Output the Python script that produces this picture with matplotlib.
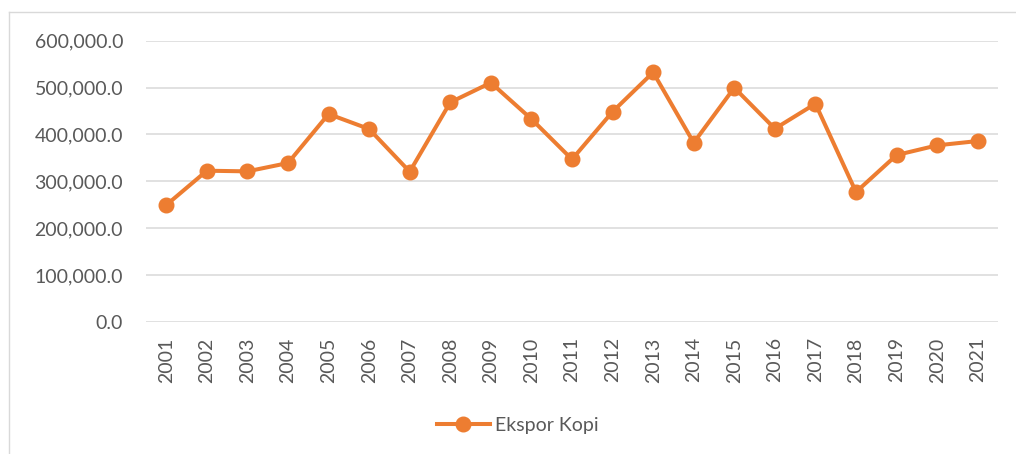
import matplotlib
matplotlib.use("Agg")
import matplotlib.pyplot as plt
from matplotlib.lines import Line2D
from matplotlib.ticker import FuncFormatter

# ── Data ────────────────────────────────────────────────────────────
years = [str(y) for y in range(2001, 2022)]
ekspor_kopi = [
    249500, 322700, 321300, 339100, 443600, 411600, 320600,
    468500, 510400, 432900, 347000, 448500, 532500, 382400,
    499700, 412300, 465600, 277200, 356100, 376800, 386000,
]
y_ticks = [0, 100000, 200000, 300000, 400000, 500000, 600000]

ORANGE = "#ED7D31"
GRID = "#D9D9D9"
TEXT = "#595959"

plt.rcParams["font.family"] = ["Lato", "DejaVu Sans"]

fig = plt.figure(figsize=(10.16, 4.54), dpi=100)
ax = fig.add_axes([146 / 1016, 1 - 322 / 454, 852 / 1016, (322 - 40.7) / 454])

x = list(range(len(years)))
ax.plot(x, ekspor_kopi, color=ORANGE, linewidth=2.9, marker="o",
        markersize=10.5, markerfacecolor=ORANGE, markeredgecolor=ORANGE,
        label="Ekspor Kopi", zorder=3, solid_joinstyle="miter")

ax.set_xlim(-0.5, len(years) - 0.5)
ax.set_ylim(0, 600000)
ax.set_yticks(y_ticks)
ax.yaxis.set_major_formatter(FuncFormatter(lambda v, p: f"{v:,.1f}"))
ax.set_xticks(x)
ax.set_xticklabels(years, rotation=90)

ax.grid(axis="y", color=GRID, linewidth=1.1, zorder=0)
ax.set_axisbelow(True)
for s in ax.spines.values():
    s.set_visible(False)
ax.tick_params(axis="y", length=0, pad=16.5, labelsize=14, labelcolor=TEXT)
ax.tick_params(axis="x", length=0, pad=11, labelsize=14, labelcolor=TEXT)

# outer chart frame (cut off at right and bottom in the reference)
fx0, fy0 = 9 / 1016, 1 - 12 / 454
fig.add_artist(Line2D([fx0, fx0], [0, fy0], color=GRID, linewidth=1.0,
                      transform=fig.transFigure))
fig.add_artist(Line2D([fx0, 1], [fy0, fy0], color=GRID, linewidth=1.0,
                      transform=fig.transFigure))

fig.legend(loc="center", bbox_to_anchor=(518 / 1016, 1 - 425 / 454),
           frameon=False, fontsize=14, labelcolor=TEXT,
           handlelength=2.7, handletextpad=0.3)

fig.savefig("out.png", dpi=100)
